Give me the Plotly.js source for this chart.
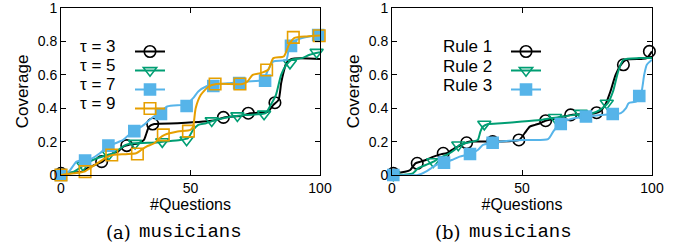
<!DOCTYPE html>
<html>
<head>
<meta charset="utf-8">
<script src="https://cdn.plot.ly/plotly-3.0.1.min.js"></script>
<style>html,body{margin:0;padding:0;background:#fff;}#chart{width:688px;height:248px;}</style>
</head>
<body>
<div id="chart"></div>
<script>
// ---- Panel (a): coverage vs #questions for different tau ----
const tauNames = ["τ = 3", "τ = 5", "τ = 7", "τ = 9"];
const tau3X = [0,5,8,10,13,16,18,20,22,24,26,30,32,33,34,36,45,55,60,63,70,73,78,80,82,84,85,86,87,89,100];
const tau3Y = [0.01,0.015,0.02,0.04,0.06,0.08,0.11,0.13,0.14,0.17,0.18,0.19,0.21,0.25,0.29,0.305,0.31,0.32,0.33,0.345,0.355,0.37,0.375,0.38,0.42,0.45,0.55,0.62,0.67,0.695,0.695];
const tau3MX = [0,15.7,25.4,35.4,62.7,72.3,82.6];
const tau3MY = [0.01,0.08,0.176,0.305,0.345,0.37,0.433];

const tau5X = [0,5,8,11,14,18,20,23,25,28,37,40,46,49,51,53,56,60,66,72,79,81,83,85,87,89,93,96,100];
const tau5Y = [0,0.02,0.05,0.08,0.1,0.12,0.13,0.16,0.18,0.19,0.195,0.2,0.21,0.22,0.27,0.3,0.31,0.33,0.35,0.36,0.37,0.42,0.48,0.6,0.66,0.69,0.7,0.72,0.735];
const tau5MX = [8.5,18.5,28.6,39.1,48.5,58.2,68.1,78.4,88.4,98.7];
const tau5MY = [0.06,0.125,0.19,0.2,0.21,0.325,0.355,0.365,0.67,0.735];

const tau7X = [0,3,6,9,12,15,18,21,24,27,29,32,35,38,41,47,49,51,53,56,59,65,72,78,80,82,87,88,90,93,100];
const tau7Y = [0,0.02,0.08,0.09,0.1,0.13,0.17,0.19,0.21,0.25,0.27,0.3,0.34,0.37,0.41,0.42,0.43,0.46,0.5,0.53,0.54,0.55,0.56,0.57,0.63,0.68,0.69,0.76,0.8,0.82,0.84];
const tau7MX = [0,9.3,18.3,28.3,38.6,48.5,58.8,68.8,78.8,88.8,99.3];
const tau7MY = [0,0.086,0.176,0.263,0.365,0.413,0.533,0.55,0.565,0.773,0.838];

const tau9X = [0,5,9,12,15,18,20,25,29,31,33,36,38,40,45,50,51,52,54,57,60,70,72,74,77,80,82,86,88,90,95,100];
const tau9Y = [0,0.01,0.02,0.05,0.08,0.11,0.12,0.125,0.13,0.15,0.17,0.19,0.22,0.24,0.26,0.27,0.29,0.4,0.48,0.53,0.545,0.545,0.56,0.6,0.61,0.63,0.7,0.71,0.78,0.82,0.83,0.835];
const tau9MX = [0,9.3,19.6,29.5,39.5,49.2,59.5,69.1,79.4,89.7,99.7];
const tau9MY = [0,0.02,0.12,0.126,0.24,0.263,0.545,0.545,0.629,0.824,0.834];

// ---- Panel (b): coverage vs #questions for different rules ----
const ruleNames = ["Rule 1", "Rule 2", "Rule 3"];
const rule1X = [0,5,7,9,11,13,16,19,21,24,26,28,30,40,47,49,51,53,55,57,59,62,66,69,74,78,80,82,84,86,88,90,96,98,100];
const rule1Y = [0.01,0.02,0.03,0.07,0.08,0.09,0.11,0.125,0.13,0.16,0.175,0.19,0.2,0.2,0.205,0.21,0.25,0.29,0.3,0.31,0.325,0.335,0.35,0.36,0.365,0.37,0.38,0.42,0.5,0.6,0.66,0.69,0.695,0.7,0.74];
const rule1MX = [0.5,9.7,19.7,28.7,38.7,48.8,59.1,68.7,78.7,89,99];
const rule1MY = [0.01,0.07,0.13,0.193,0.2,0.21,0.325,0.36,0.373,0.66,0.74];

const rule2X = [0,8,10,13,16,18,21,24,26,28,31,33,34,35,37,42,50,57,61,66,70,77,80,83,85,87,89,95,100];
const rule2Y = [0,0.01,0.04,0.06,0.08,0.1,0.12,0.15,0.18,0.19,0.2,0.21,0.26,0.29,0.305,0.31,0.32,0.33,0.34,0.35,0.36,0.37,0.39,0.43,0.5,0.62,0.69,0.7,0.7];
const rule2MX = [0.5,15.9,25.5,35.5,62.7,72.6,82.6];
const rule2MY = [0,0.08,0.18,0.305,0.345,0.37,0.43];

const rule3X = [0,10,13,15,17,20,23,26,30,33,35,38,42,50,60,62,64,66,70,75,80,85,88,90,91,94,95,96,97,98,100];
const rule3Y = [0,0,0.02,0.04,0.06,0.075,0.09,0.11,0.125,0.15,0.18,0.19,0.2,0.21,0.215,0.26,0.3,0.32,0.34,0.35,0.36,0.365,0.37,0.4,0.43,0.44,0.47,0.5,0.6,0.66,0.69];
const rule3MX = [0.5,20,30,38.7,64.9,74.6,84.9,95.1];
const rule3MY = [0,0.074,0.126,0.193,0.305,0.35,0.365,0.473];

const yTicks = [0,0.2,0.4,0.6,0.8,1];
const yTickText = ["0","0.2","0.4","0.6","0.8","1"];
const xTicks = [0,50,100];
const xTickText = ["0","50","100"];

const BLACK = "#000000", GREEN = "#009E73", BLUE = "#56B4E9", ORANGE = "#E69F00";

const styles = [
  {color: BLACK, symbol: "circle-open", size: 11.5},
  {color: GREEN, symbol: "triangle-down-open", size: 11.5},
  {color: BLUE, symbol: "square", size: 11},
  {color: ORANGE, symbol: "square-open", size: 11.5}
];

function series(x, y, mx, my, st, xa, ya, leg) {
  const lineT = {x: x, y: y, xaxis: xa, yaxis: ya, mode: "lines", type: "scatter",
    line: {color: st.color, width: 2, shape: "spline", smoothing: 0.6}, showlegend: false, hoverinfo: "skip"};
  const markT = {x: mx, y: my, xaxis: xa, yaxis: ya, mode: "markers", type: "scatter",
    marker: {color: st.color, symbol: st.symbol, size: st.size, line: {color: st.color, width: 1.6}},
    showlegend: false, hoverinfo: "skip", cliponaxis: false};
  const legT = {x: [null], y: [null], xaxis: xa, yaxis: ya, mode: "lines+markers", type: "scatter",
    name: " ", legend: leg, showlegend: true,
    line: {color: st.color, width: 2},
    marker: {color: st.color, symbol: st.symbol, size: st.size, line: {color: st.color, width: 1.6}}};
  return [lineT, markT, legT];
}

const data = [].concat(
  series(tau3X, tau3Y, tau3MX, tau3MY, styles[0], "x", "y", "legend"),
  series(tau5X, tau5Y, tau5MX, tau5MY, styles[1], "x", "y", "legend"),
  series(tau7X, tau7Y, tau7MX, tau7MY, styles[2], "x", "y", "legend"),
  series(tau9X, tau9Y, tau9MX, tau9MY, styles[3], "x", "y", "legend"),
  series(rule1X, rule1Y, rule1MX, rule1MY, styles[0], "x2", "y2", "legend2"),
  series(rule2X, rule2Y, rule2MX, rule2MY, styles[1], "x2", "y2", "legend2"),
  series(rule3X, rule3Y, rule3MX, rule3MY, styles[2], "x2", "y2", "legend2")
);

const FONT = "Liberation Sans, Arial, Helvetica, sans-serif";
const W = 688, H = 248;
const px = v => v / W, py = v => 1 - v / H;

function xAxis(dom, anchor) {
  return {domain: dom, anchor: anchor, range: [0, 100], tickvals: xTicks, ticktext: xTickText,
    ticks: "inside", ticklen: 5, tickcolor: "#000", mirror: "ticks", showline: true, linecolor: "#000", linewidth: 1,
    showgrid: false, zeroline: false, tickfont: {family: FONT, size: 14, color: "#000"}, ticklabeloverflow: "allow",
    title: {text: "#Questions", font: {family: FONT, size: 16, color: "#000"}, standoff: 0}, fixedrange: true};
}
function yAxis(dom, anchor) {
  return {domain: dom, anchor: anchor, range: [0, 1], tickvals: yTicks, ticktext: yTickText,
    ticks: "inside", ticklen: 5, tickcolor: "#000", mirror: "ticks", showline: true, linecolor: "#000", linewidth: 1,
    showgrid: false, zeroline: false, tickfont: {family: FONT, size: 14, color: "#000"}, ticklabeloverflow: "allow",
    title: {text: "Coverage", font: {family: FONT, size: 17, color: "#000"}, standoff: 4}, fixedrange: true};
}

const yDom = [py(175), py(8)];
const annFont = {family: FONT, size: 17, color: "#000"};
const annotations = [];
tauNames.forEach((t, i) => annotations.push({xref: "paper", yref: "paper", x: px(118), y: py(47 + i * 18.8),
  xanchor: "right", yanchor: "middle", text: t, showarrow: false, font: annFont}));
ruleNames.forEach((t, i) => annotations.push({xref: "paper", yref: "paper", x: px(494), y: py(47 + i * 19),
  xanchor: "right", yanchor: "middle", text: t, showarrow: false, font: annFont}));
// captions
[["(a)", 133], ["(b)", 463]].forEach(c => annotations.push({xref: "paper", yref: "paper",
  x: px(c[1]), y: py(232), xanchor: "right", yanchor: "middle", text: c[0], showarrow: false,
  font: {family: "DejaVu Serif, Liberation Serif, serif", size: 18, color: "#000"}}));
[[137], [467]].forEach(c => annotations.push({xref: "paper", yref: "paper",
  x: px(c[0]), y: py(232), xanchor: "left", yanchor: "middle", text: "musicians", showarrow: false,
  font: {family: "Liberation Mono, DejaVu Sans Mono, monospace", size: 19, color: "#000"}}));

const legBase = {bgcolor: "rgba(0,0,0,0)", borderwidth: 0, font: {family: FONT, size: 12}, xanchor: "left", yanchor: "top",
  itemclick: false, itemdoubleclick: false, tracegroupgap: 0};

const layout = {
  width: W, height: H, autosize: false,
  margin: {l: 0, r: 0, t: 0, b: 0, pad: 0},
  paper_bgcolor: "#fff", plot_bgcolor: "#fff",
  xaxis: xAxis([px(61), px(320)], "y"),
  yaxis: yAxis(yDom, "x"),
  xaxis2: xAxis([px(392), px(652)], "y2"),
  yaxis2: yAxis(yDom, "x2"),
  legend: Object.assign({}, legBase, {x: px(130), y: py(37)}),
  legend2: Object.assign({}, legBase, {x: px(506), y: py(37)}),
  annotations: annotations,
  showlegend: true
};

Plotly.newPlot("chart", data, layout, {staticPlot: true, displayModeBar: false});
</script>
</body>
</html>
